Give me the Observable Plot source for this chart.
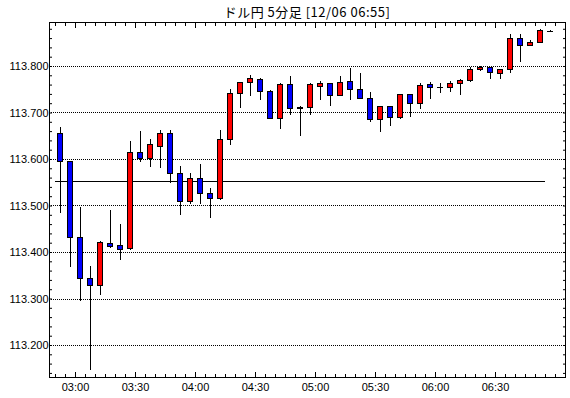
<!DOCTYPE html>
<html>
<head>
<meta charset="utf-8">
<script src="https://cdn.jsdelivr.net/npm/d3@7"></script>
<script src="https://cdn.jsdelivr.net/npm/@observablehq/plot@0.6"></script>
<style>
  body { margin: 0; background: #fff; }
  #title {
    width: 570px; height: 20px; box-sizing: border-box;
    padding: 2px 5px 0 49px; line-height: 20px; text-align: center;
    font-family: "Noto Sans CJK JP", sans-serif; font-size: 13px; letter-spacing: 0.5px;
    color: #000; white-space: nowrap;
  }
  #chart svg { display: block; }
</style>
</head>
<body>
<div id="title">ドル円 5分足 [12/06 06:55]</div>
<div id="chart"></div>
<script>
// ---- data (5-minute candles) ----
const times = ["02:50","02:55","03:00","03:05","03:10","03:15","03:20","03:25","03:30","03:35",
               "03:40","03:45","03:50","03:55","04:00","04:05","04:10","04:15","04:20","04:25",
               "04:30","04:35","04:40","04:45","04:50","04:55","05:00","05:05","05:10","05:15",
               "05:20","05:25","05:30","05:35","05:40","05:45","05:50","05:55","06:00","06:05",
               "06:10","06:15","06:20","06:25","06:30","06:35","06:40","06:45","06:50","06:55"];
const open  = [113.655,113.594,113.431,113.343,113.327,113.418,113.413,113.407,113.614,113.601,
               113.627,113.655,113.569,113.508,113.558,113.526,113.515,113.643,113.741,113.764,
               113.771,113.745,113.687,113.760,113.710,113.711,113.756,113.762,113.736,113.766,
               113.749,113.730,113.685,113.713,113.689,113.738,113.719,113.760,113.754,113.754,
               113.762,113.769,113.792,113.797,113.784,113.792,113.859,113.844,113.850,113.876];
const high  = [113.669,113.595,113.497,113.370,113.423,113.490,113.460,113.638,113.660,113.642,
               113.662,113.662,113.584,113.569,113.589,113.537,113.662,113.750,113.766,113.780,
               113.775,113.748,113.763,113.778,113.713,113.764,113.767,113.763,113.778,113.795,
               113.786,113.743,113.713,113.713,113.739,113.738,113.764,113.766,113.763,113.767,
               113.771,113.797,113.799,113.797,113.794,113.868,113.868,113.855,113.880,113.877];
const low   = [113.483,113.368,113.295,113.146,113.307,113.408,113.383,113.404,113.594,113.583,
               113.581,113.549,113.480,113.504,113.504,113.474,113.512,113.630,113.709,113.735,
               113.727,113.687,113.665,113.694,113.649,113.695,113.727,113.714,113.735,113.727,
               113.729,113.680,113.657,113.670,113.686,113.691,113.708,113.730,113.741,113.745,
               113.738,113.766,113.790,113.773,113.771,113.786,113.809,113.844,113.850,113.874];
const close = [113.594,113.431,113.343,113.327,113.420,113.411,113.406,113.614,113.601,113.632,
               113.655,113.569,113.508,113.558,113.526,113.515,113.642,113.741,113.764,113.774,
               113.745,113.687,113.761,113.708,113.709,113.761,113.763,113.736,113.764,113.749,
               113.730,113.685,113.713,113.689,113.738,113.719,113.758,113.754,113.754,113.762,
               113.769,113.792,113.797,113.786,113.792,113.859,113.844,113.850,113.876,113.876];
const refLevel = 113.553;
const yTickValues = [113.2, 113.3, 113.4, 113.5, 113.6, 113.7, 113.8];
const xTickLabels = ["03:00","03:30","04:00","04:30","05:00","05:30","06:00","06:30"];

// ---- helpers ----
const toMin = s => +s.slice(0, 2) * 60 + +s.slice(3, 5);
const fmtTime = m => String(Math.floor(m / 60)).padStart(2, "0") + ":" + String(m % 60).padStart(2, "0");
const data = times.map((t, i) => ({t: toMin(t), open: open[i], high: high[i], low: low[i], close: close[i]}));
const first = data[0].t, last = data[data.length - 1].t;
const xMajor = xTickLabels.map(toMin);
const xMinor = d3.range(first, last + 6, 5);
const yMinor = d3.range(5657, 5695).map(k => +(k * 0.02).toFixed(2));

const bodies = data.filter(d => d.open !== d.close);
const dojis = data.filter(d => d.open === d.close);

const chart = Plot.plot({
  width: 570, height: 378,
  marginLeft: 49, marginRight: 5, marginTop: 2, marginBottom: 21,
  style: {fontFamily: '"Liberation Sans", Arial, sans-serif', fontSize: "11px", color: "#000", background: "#fff"},
  x: {type: "linear", domain: [167, 425]},
  y: {domain: [113.1312, 113.8946]},
  color: {type: "identity"},
  marks: [
    Plot.ruleY(yTickValues, {stroke: "#000", strokeDasharray: "1,1", shapeRendering: "crispEdges"}),
    Plot.ruleY([refLevel], {x1: () => first, x2: () => last, stroke: "#000", shapeRendering: "crispEdges"}),
    Plot.ruleX(data, {x: d => d.t + 2.5, y1: "low", y2: "high", stroke: "#000", shapeRendering: "crispEdges"}),
    Plot.rect(bodies, {x1: "t", x2: d => d.t + 5, y1: "open", y2: "close", insetLeft: 2, insetRight: 3,
      fill: d => d.close > d.open ? "#ff0000" : "#0000ff", stroke: "#000", shapeRendering: "crispEdges"}),
    Plot.ruleY(dojis, {y: "open", x1: "t", x2: d => d.t + 5, insetLeft: 1.5, insetRight: 2.5, stroke: "#000", shapeRendering: "crispEdges"}),
    Plot.axisY(yTickValues, {anchor: "left", tickSize: 0, tickPadding: 1, tickFormat: d3.format(".3f"), label: null}),
    Plot.axisY(yMinor, {anchor: "left", tickSize: 3, dx: 3, fill: "none", label: null}),
    Plot.axisY(yMinor, {anchor: "right", tickSize: 3, dx: -3, fill: "none", label: null}),
    Plot.axisX(xMajor, {anchor: "bottom", tickSize: 0, tickPadding: 6, tickFormat: fmtTime, label: null}),
    Plot.axisX(xMinor, {anchor: "bottom", tickSize: 3, dy: -3, fill: "none", label: null}),
    Plot.axisX(xMajor, {anchor: "bottom", tickSize: 5, dy: -5, fill: "none", label: null}),
    Plot.axisX(xMinor, {anchor: "top", tickSize: 3, dy: 3, fill: "none", label: null}),
    Plot.axisX(xMajor, {anchor: "top", tickSize: 5, dy: 5, fill: "none", label: null}),
    Plot.frame({stroke: "#000"})
  ]
});
document.getElementById("chart").appendChild(chart);
</script>
</body>
</html>
